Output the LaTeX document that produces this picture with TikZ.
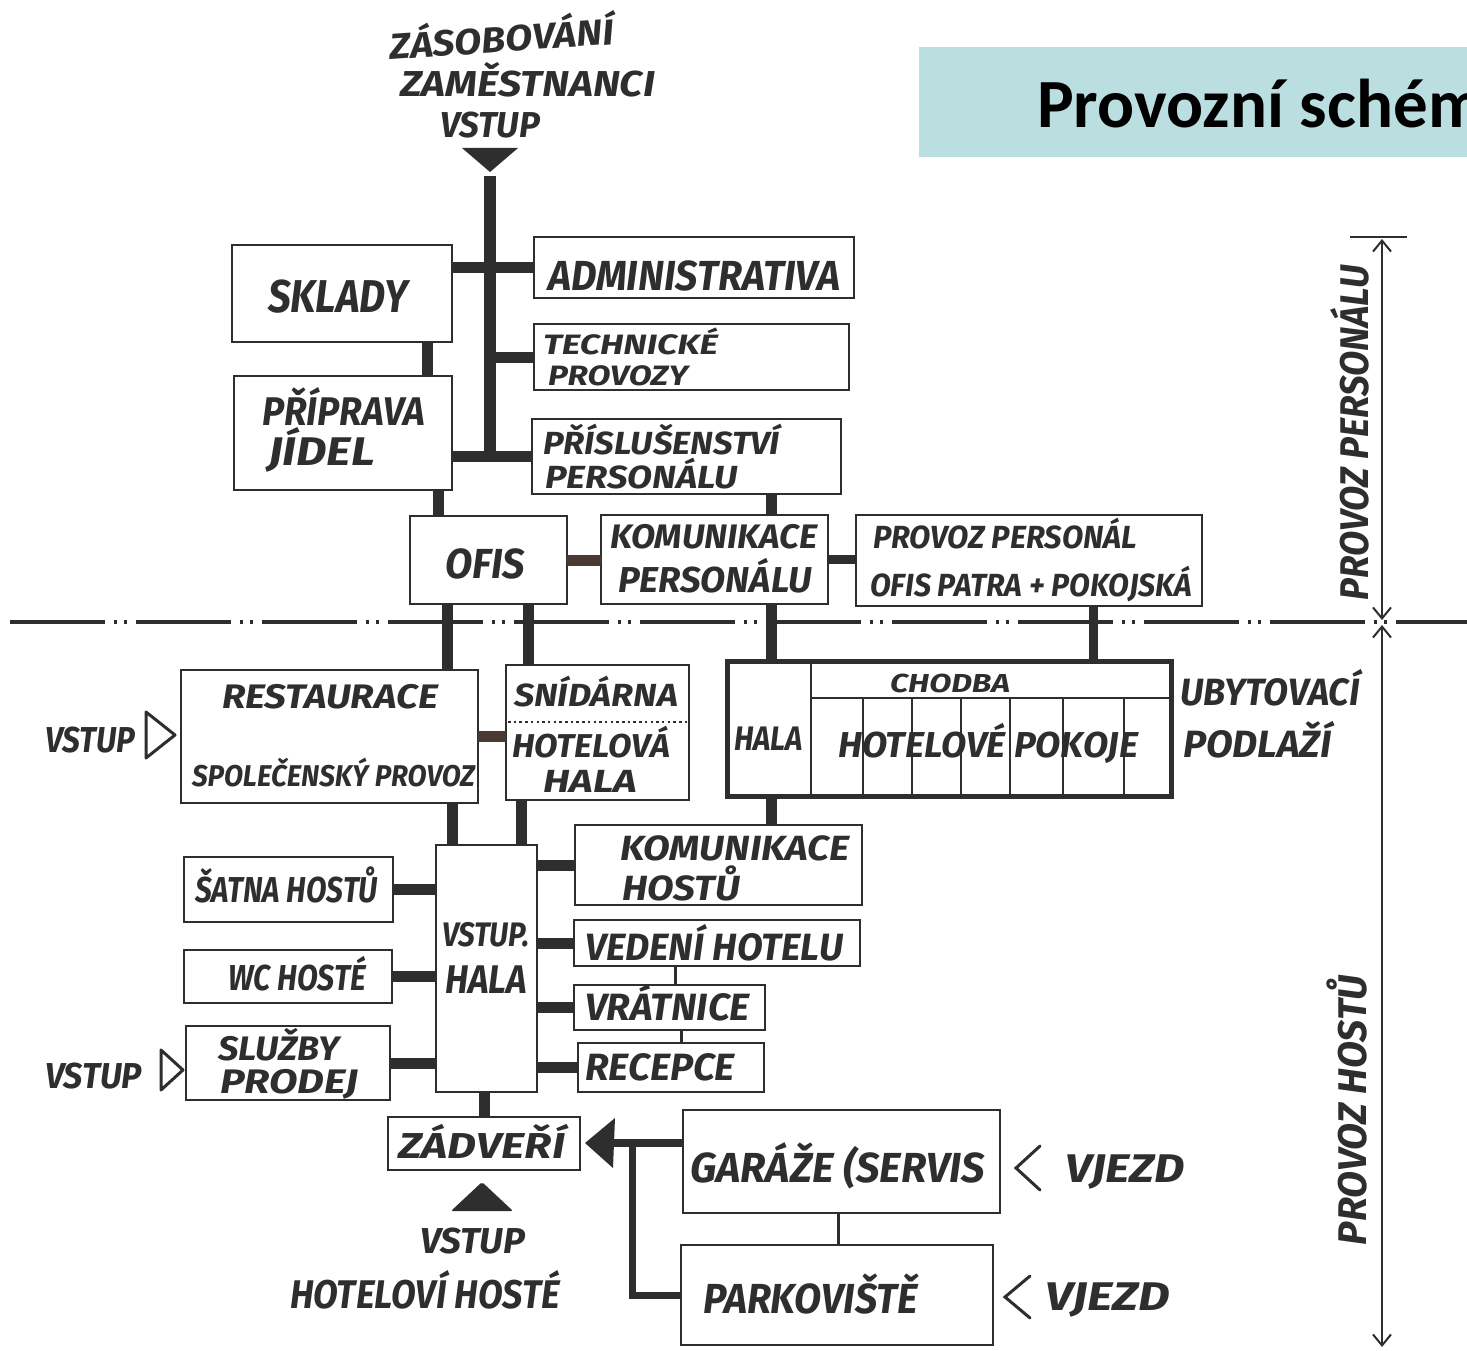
\documentclass[tikz,border=0pt]{standalone}
\usepackage{fontspec}
\usepackage{graphicx}
\usetikzlibrary{arrows.meta}
\newfontfamily\handf{Fira Sans}
\newfontfamily\titlef{Carlito}
\definecolor{ink}{HTML}{2E2E2E}
\definecolor{brownink}{HTML}{4A3833}
\definecolor{titlebg}{HTML}{BBDEE1}
\newcommand\hw[3]{\resizebox{#1pt}{\height}{\fontsize{#2pt}{#2pt}\selectfont\handf\bfseries\itshape #3}}
% box: [opts]{name}{x1}{y1}{x2}{y2}
\newcommand\bx[6][]{\node[box,#1,minimum width={#5pt-#3pt},minimum height={#6pt-#4pt}] (#2) at ({(#3+#5)/2},{(#4+#6)/2}) {};}
% text: [opts]{name}{x}{baseline y}{width}{size}{text}
\newcommand\tx[7][]{\node[lbl,#1] (#2) at (#3,#4) {\hw{#5}{#6}{#7}};}
\tikzset{
  box/.style={draw=ink, line width=2.4pt, rectangle, inner sep=0pt, outer sep=0pt},
  lbl/.style={anchor=base west, inner sep=0pt, outer sep=0pt, text=ink},
  conn/.style={draw=ink, line width=11pt},
  bconn/.style={draw=brownink, line width=11pt},
  thinconn/.style={draw=ink, line width=3pt},
  dim/.style={draw=ink, line width=1.8pt},
  barb/.style={-{Straight Barb[length=11pt,width=18pt,line width=2pt]}},
  axis/.style={draw=ink, line width=4pt, dash pattern=on 95pt off 9pt on 3pt off 7pt on 3pt off 9pt},
}
\begin{document}
\begin{tikzpicture}[x=1pt,y=-1pt]
\clip (0,0) rectangle (1467,1351);
\fill[white] (0,0) rectangle (1467,1351);

% title
\node[fill=titlebg, minimum width=548pt, minimum height=110pt, anchor=north west, inner sep=0pt] (titlebox) at (919,47) {};
\node[anchor=base west, inner sep=0pt, font=\titlef\bfseries\fontsize{69pt}{69pt}\selectfont] (title) at (1037,128) {Provozní schéma};

% dash-dot division line
\draw[axis] (10,622) -- (1467,622);

% top entrance
\tx[rotate=4]{tZas}{390}{60}{225}{36}{ZÁSOBOVÁNÍ}
\tx{tZam}{400}{97}{255}{36}{ZAMĚSTNANCI}
\tx{tVst1}{440}{138}{100}{36}{VSTUP}
\fill[ink] (462,148) -- (518,148) -- (490,172) -- cycle;
\coordinate (trunkTop) at (490,176);
\coordinate (trunkEnd) at (490,458);

% column coordinates
\coordinate (k427) at (427,0);
\coordinate (k438) at (438,0);
\coordinate (k447) at (447,0);
\coordinate (k452) at (452,0);
\coordinate (k484) at (484,0);
\coordinate (k521) at (521,0);
\coordinate (k528) at (528,0);
\coordinate (k632) at (632,0);
\coordinate (k675) at (675,0);
\coordinate (k681) at (681,0);
\coordinate (k771) at (771,0);
\coordinate (k838) at (838,0);
\coordinate (k1093) at (1093,0);

% boxes, staff part
\bx{sklady}{232}{245}{452}{342}
\bx{adm}{534}{237}{854}{298}
\bx{tech}{534}{324}{849}{390}
\bx{pris}{532}{419}{841}{494}
\bx{prip}{234}{376}{452}{490}
\bx{ofis}{410}{516}{567}{604}
\bx{komp}{601}{515}{828}{604}
\bx{provp}{856}{515}{1202}{606}

% boxes, guest part
\bx{rest}{181}{670}{478}{803}
\bx{snid}{506}{665}{689}{800}
\bx[line width=5pt]{block}{727}{661}{1171}{796}
\bx{komh}{575}{825}{862}{905}
\bx{vedeni}{574}{920}{860}{966}
\bx{vrat}{574}{985}{765}{1030}
\bx{recep}{578}{1043}{764}{1092}
\bx{vhala}{436}{845}{537}{1092}
\bx{satna}{184}{857}{393}{922}
\bx{wc}{184}{950}{392}{1003}
\bx{sluzby}{186}{1026}{390}{1100}
\bx{zadv}{388}{1117}{580}{1170}
\bx{garaze}{683}{1110}{1000}{1213}
\bx{park}{681}{1245}{993}{1345}

% inner structure of accommodation block
\draw[ink, line width=2.4pt] (811,661) -- (811,796);
\draw[ink, line width=2.4pt] (811,698) -- (1171,698);
\foreach \xx in {863,912,961,1010,1063,1124}
  \draw[ink, line width=2pt] (\xx,698) -- (\xx,796);
% dotted separator in breakfast room
\draw[ink, line width=2.6pt, dash pattern=on 2.5pt off 3.2pt] (508,722) -- (687,722);

% connectors, staff part
\draw[conn, line width=12pt] (trunkTop) -- (trunkEnd);
\draw[conn] (sklady.east |- adm.west) -- (adm.west);
\draw[conn] (trunkEnd |- tech.west) -- (tech.west);
\draw[conn] (prip.east |- pris.west) -- (pris.west);
\draw[conn] (k427 |- sklady.south) -- (k427 |- prip.north);
\draw[conn] (k438 |- prip.south) -- (k438 |- ofis.north);
\draw[bconn] (ofis.east) -- (ofis.east -| komp.west);
\draw[conn] (k771 |- pris.south) -- (k771 |- komp.north);
\draw[conn, line width=9pt] (komp.east) -- (komp.east -| provp.west);

% connectors across the division line
\draw[conn] (k447 |- ofis.south) -- (k447 |- rest.north);
\draw[conn] (k528 |- ofis.south) -- (k528 |- snid.north);
\draw[conn] (k771 |- komp.south) -- (k771 |- block.north);
\draw[conn, line width=9pt] (k1093 |- provp.south) -- (k1093 |- block.north);

% connectors, guest part
\draw[bconn] (rest.east) -- (rest.east -| snid.west);
\draw[conn] (k452 |- rest.south) -- (k452 |- vhala.north);
\draw[conn] (k521 |- snid.south) -- (k521 |- vhala.north);
\draw[conn] (k771 |- block.south) -- (k771 |- komh.north);
\draw[conn] (vhala.east |- komh.west) -- (komh.west);
\draw[conn] (vhala.east |- vedeni.west) -- (vedeni.west);
\draw[conn] (vhala.east |- vrat.west) -- (vrat.west);
\draw[conn] (vhala.east |- recep.west) -- (recep.west);
\draw[conn] (satna.east) -- (satna.east -| vhala.west);
\draw[conn] (wc.east) -- (wc.east -| vhala.west);
\draw[conn] (sluzby.east) -- (sluzby.east -| vhala.west);
\draw[thinconn] (k675 |- vedeni.south) -- (k675 |- vrat.north);
\draw[thinconn] (k681 |- vrat.south) -- (k681 |- recep.north);
\draw[conn] (k484 |- vhala.south) -- (k484 |- zadv.north);
\draw[thinconn] (k838 |- garaze.south) -- (k838 |- park.north);

% car entrance arrow
\fill[ink] (585,1143) -- (615,1118) -- (613,1168) -- cycle;
\coordinate (arrowBase) at (612,1143);
\draw[conn, line width=8pt] (arrowBase) -- (arrowBase -| garaze.west);
\draw[conn, line width=7pt] (k632 |- arrowBase) |- (park.west);

% guest entrance triangle
\fill[ink, rounded corners=2pt] (482,1182) -- (513,1211) -- (451,1211) -- cycle;

% side entrances
\draw[ink, line width=3pt, line join=round] (146,712) -- (175,735) -- (146,758) -- cycle;
\draw[ink, line width=3pt, line join=round] (161,1050) -- (183,1070) -- (161,1090) -- cycle;
\draw[ink, line width=3pt, line cap=round] (1040,1146) -- (1016,1168) -- (1040,1190);
\draw[ink, line width=3pt, line cap=round] (1030,1276) -- (1005,1297) -- (1030,1318);

% dimension line on the right
\draw[dim] (1350,237) -- (1407,237);
\draw[dim, barb] (1382,430) -- (1382,239);
\draw[dim, barb] (1382,430) -- (1382,620);
\draw[dim, barb] (1382,1000) -- (1382,625);
\draw[dim, barb] (1382,1000) -- (1382,1347);

% texts, staff part
\tx{tSklady}{268}{312}{140}{46}{SKLADY}
\tx{tAdm}{548}{290}{292}{42}{ADMINISTRATIVA}
\tx{tTech}{543}{354}{175}{28}{TECHNICKÉ}
\tx{tProv}{548}{385}{140}{28}{PROVOZY}
\tx{tPris}{543}{454}{237}{32}{PŘÍSLUŠENSTVÍ}
\tx{tPers1}{545}{488}{193}{32}{PERSONÁLU}
\tx{tPrip}{262}{425}{163}{40}{PŘÍPRAVA}
\tx{tJidel}{268}{465}{107}{40}{JÍDEL}
\tx{tOfis}{445}{578}{80}{42}{OFIS}
\tx{tKom1}{610}{548}{208}{34}{KOMUNIKACE}
\tx{tPers2}{618}{592}{194}{36}{PERSONÁLU}
\tx{tPP1}{873}{548}{264}{32}{PROVOZ PERSONÁL}
\tx{tPP2}{870}{596}{322}{32}{OFIS PATRA + POKOJSKÁ}

% texts, guest part
\tx{tRest}{222}{708}{216}{34}{RESTAURACE}
\tx{tSpol}{192}{786}{283}{30}{SPOLEČENSKÝ PROVOZ}
\tx{tSnid}{514}{706}{164}{32}{SNÍDÁRNA}
\tx{tHot}{512}{757}{158}{33}{HOTELOVÁ}
\tx{tHala1}{543}{792}{94}{32}{HALA}
\tx{tVstL1}{45}{752}{90}{36}{VSTUP}
\tx{tHala2}{734}{750}{69}{34}{HALA}
\tx{tChod}{890}{692}{120}{26}{CHODBA}
\tx{tHP}{838}{757}{300}{36}{HOTELOVÉ POKOJE}
\tx{tUby}{1180}{705}{180}{38}{UBYTOVACÍ}
\tx{tPodl}{1183}{757}{149}{38}{PODLAŽÍ}
\tx{tSatna}{195}{902}{183}{36}{ŠATNA HOSTŮ}
\tx{tWC}{228}{990}{138}{36}{WC HOSTÉ}
\tx{tSluz}{218}{1060}{122}{34}{SLUŽBY}
\tx{tProd}{220}{1093}{138}{34}{PRODEJ}
\tx{tVstL2}{45}{1088}{97}{36}{VSTUP}
\tx{tVst2}{442}{946}{88}{34}{VSTUP.}
\tx{tHala3}{445}{993}{82}{40}{HALA}
\tx{tKom2}{620}{860}{230}{35}{KOMUNIKACE}
\tx{tHost}{622}{900}{118}{35}{HOSTŮ}
\tx{tVed}{585}{960}{258}{38}{VEDENÍ HOTELU}
\tx{tVrat}{585}{1020}{165}{38}{VRÁTNICE}
\tx{tRec}{585}{1080}{150}{38}{RECEPCE}
\tx{tZad}{398}{1158}{167}{36}{ZÁDVEŘÍ}
\tx{tVst3}{420}{1253}{105}{36}{VSTUP}
\tx{tHH}{290}{1308}{270}{40}{HOTELOVÍ HOSTÉ}
\tx{tGar}{690}{1182}{295}{42}{GARÁŽE (SERVIS}
\tx{tPark}{703}{1313}{215}{42}{PARKOVIŠTĚ}
\tx{tVj1}{1065}{1182}{120}{40}{VJEZD}
\tx{tVj2}{1045}{1310}{125}{40}{VJEZD}
\tx[rotate=90]{tPPers}{1368}{600}{335}{40}{PROVOZ PERSONÁLU}
\tx[rotate=90]{tPHost}{1366}{1245}{270}{40}{PROVOZ HOSTŮ}
\end{tikzpicture}
\end{document}
